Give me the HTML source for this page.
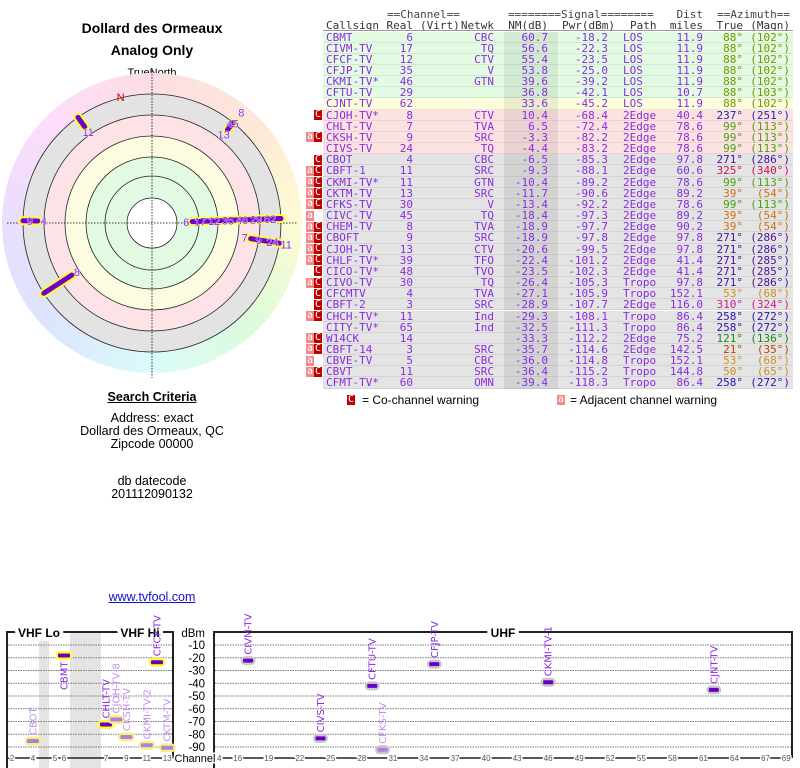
<!DOCTYPE html>
<html><head><meta charset="utf-8">
<style>
body{margin:0;width:800px;height:768px;background:#fff;position:relative;overflow:hidden;font-family:"Liberation Sans","DejaVu Sans",sans-serif;}
.t{position:absolute;white-space:pre;}
.c{position:absolute;text-align:center;white-space:pre;}
.m{font-family:"DejaVu Sans Mono","Liberation Mono",monospace;font-size:11px;line-height:11px;position:absolute;white-space:pre;}
.r{text-align:right;}
.rowbg{position:absolute;left:323px;width:470px;border-bottom:1px solid rgba(0,0,0,0.07);box-sizing:border-box;}
.wa{position:absolute;width:8px;height:10px;background:#f08a8a;color:#fff;font-size:10px;line-height:10px;text-align:center;font-family:"DejaVu Sans Mono",monospace;}
.wc{position:absolute;width:8px;height:10px;background:#c00000;color:#fff;font-size:10px;line-height:10px;text-align:center;font-family:"DejaVu Sans Mono",monospace;}
#rim{position:absolute;left:2px;top:73px;width:300px;height:300px;border-radius:50%;
background:conic-gradient(hsl(350,90%,93%) 0deg,hsl(25,90%,92%) 45deg,hsl(58,90%,91%) 90deg,hsl(115,80%,92%) 135deg,hsl(180,80%,92%) 180deg,hsl(225,90%,93%) 225deg,hsl(262,90%,93%) 270deg,hsl(305,90%,93%) 315deg,hsl(350,90%,93%) 360deg);}
</style></head><body>
<div class="c" style="left:0;width:304px;top:20px;font-size:14px;font-weight:bold;">Dollard des Ormeaux</div>
<div class="c" style="left:0;width:304px;top:42px;font-size:14px;font-weight:bold;">Analog Only</div>
<div class="c" style="left:0;width:304px;top:67px;font-size:11px;">TrueNorth</div>

<div id="rim"></div>
<svg id="radar" style="position:absolute;left:0;top:0" width="304" height="390"></svg>

<div class="c" style="left:0;width:304px;top:390px;font-size:12.5px;font-weight:bold;text-decoration:underline;">Search Criteria</div>
<div class="c" style="left:0;width:304px;top:412px;font-size:12.5px;line-height:13px;">Address: exact
Dollard des Ormeaux, QC
Zipcode 00000</div>
<div class="c" style="left:0;width:304px;top:475px;font-size:12.5px;line-height:13px;">db datecode
201112090132</div>
<div class="c" style="left:0;width:304px;top:590px;font-size:12.5px;color:#1010d0;text-decoration:underline;">www.tvfool.com</div>

<div id="table"></div>

<div class="wc" style="left:347px;top:395px;">C</div>
<div class="t" style="left:362px;top:393px;font-size:12px;">= Co-channel warning</div>
<div class="wa" style="left:557px;top:395px;">a</div>
<div class="t" style="left:570px;top:393px;font-size:12px;">= Adjacent channel warning</div>

<svg id="chart" style="position:absolute;left:0;top:0" width="800" height="768"></svg>

<script>
// ---------- table data ----------
const callsigns=["CBMT","CIVM-TV","CFCF-TV","CFJP-TV","CKMI-TV*","CFTU-TV","CJNT-TV","CJOH-TV*","CHLT-TV","CKSH-TV","CIVS-TV","CBOT","CBFT-1","CKMI-TV*","CKTM-TV","CFKS-TV","CIVC-TV","CHEM-TV","CBOFT","CJOH-TV","CHLF-TV*","CICO-TV*","CIVO-TV","CFCMTV","CBFT-2","CHCH-TV*","CITY-TV*","W14CK","CBFT-14","CBVE-TV","CBVT","CFMT-TV*"];
const realCh=[6,17,12,35,46,29,62,8,7,9,24,4,11,11,13,30,45,8,9,13,39,48,30,4,3,11,65,14,3,5,11,60];
const networks=["CBC","TQ","CTV","V","GTN","","","CTV","TVA","SRC","TQ","CBC","SRC","GTN","SRC","V","TQ","TVA","SRC","CTV","TFO","TVO","TQ","TVA","SRC","Ind","Ind","","SRC","CBC","SRC","OMN"];
const nmDb=[60.7,56.6,55.4,53.8,39.6,36.8,33.6,10.4,6.5,-3.3,-4.4,-6.5,-9.3,-10.4,-11.7,-13.4,-18.4,-18.9,-18.9,-20.6,-22.4,-23.5,-26.4,-27.1,-28.9,-29.3,-32.5,-33.3,-35.7,-36.0,-36.4,-39.4];
const pwrDbm=[-18.2,-22.3,-23.5,-25.0,-39.2,-42.1,-45.2,-68.4,-72.4,-82.2,-83.2,-85.3,-88.1,-89.2,-90.6,-92.2,-97.3,-97.7,-97.8,-99.5,-101.2,-102.3,-105.3,-105.9,-107.7,-108.1,-111.3,-112.2,-114.6,-114.8,-115.2,-118.3];
const paths=["LOS","LOS","LOS","LOS","LOS","LOS","LOS","2Edge","2Edge","2Edge","2Edge","2Edge","2Edge","2Edge","2Edge","2Edge","2Edge","2Edge","2Edge","2Edge","2Edge","2Edge","Tropo","Tropo","2Edge","Tropo","Tropo","2Edge","2Edge","Tropo","Tropo","Tropo"];
const distMiles=[11.9,11.9,11.9,11.9,11.9,10.7,11.9,40.4,78.6,78.6,78.6,97.8,60.6,78.6,89.2,78.6,89.2,90.2,97.8,97.8,41.4,41.4,97.8,152.1,116.0,86.4,86.4,75.2,142.5,152.1,144.8,86.4];
const azTrue=[88,88,88,88,88,88,88,237,99,99,99,271,325,99,39,99,39,39,271,271,271,271,271,53,310,258,258,121,21,53,50,258];
const azMagn=[102,102,102,102,102,103,102,251,113,113,113,286,340,113,54,113,54,54,286,286,285,285,286,68,324,272,272,136,35,68,65,272];
const warnings=["","","","","","","","C","","aC","","C","aC","aC","aC","aC","a","aC","aC","aC","aC","C","aC","C","C","aC","","aC","aC","a","aC",""];
const azColors={88:"#6a9a00",237:"#2020c0",99:"#4aa010",271:"#4a10a0",325:"#d0105a",39:"#d07010",53:"#d09020",310:"#d01890",258:"#3010b0",121:"#108a10",21:"#c04000",50:"#c89020"};

const tbl=document.getElementById('table');
function cell(txt,opts){
  const d=document.createElement('div');
  d.className='m'+(opts.right!==undefined?' r':'');
  d.textContent=txt;
  d.style.top=opts.top+'px';
  if(opts.left!==undefined)d.style.left=opts.left+'px';
  if(opts.right!==undefined)d.style.right=(800-opts.right)+'px';
  d.style.color=opts.color||'#8a2be2';
  tbl.appendChild(d);
  return d;
}
// header
let h;
h=cell("==Channel==",{left:387,top:9,color:'#444'});


h=cell("========Signal========",{left:508,top:9,color:'#444'});


h=cell("Dist",{right:703,top:9,color:'#444'});


h=cell("==Azimuth==",{right:790,top:9,color:'#444'});


const hdr2=[["Callsign",326,null],["Real",null,413],["(Virt)",420,null],["Netwk",null,494],["NM(dB)",null,548],["Pwr(dBm)",null,615],["Path",630,null],["miles",null,703],["True",null,743],["(Magn)",null,790]];
hdr2.forEach(a=>{
  const e=cell(a[0],a[1]!==null?{left:a[1],top:20,color:'#333'}:{right:a[2],top:20,color:'#333'});
  
  
});
const hl=document.createElement('div');
hl.style.cssText='position:absolute;left:323px;width:470px;top:30px;height:1px;background:#999';


tbl.appendChild(hl);
const RH=11.16;
callsigns.forEach((cs,i)=>{
  const top=31.5+i*RH;
  const bg=document.createElement('div');
  bg.className='rowbg';
  bg.style.top=top+'px';bg.style.height=RH+'px';
  bg.style.background=i<6?'#e2fbe2':(i==6?'#fdfddd':(i<11?'#fde2e2':'#e4e4e4'));
  
  
  tbl.appendChild(bg);
  const nmc=document.createElement('div');
  nmc.style.cssText='position:absolute;left:504px;width:54px;height:'+RH+'px;top:'+top+'px;background:rgba(0,0,0,0.07)';
  
  
  tbl.appendChild(nmc);
  const ty=top;
  const col=azColors[azTrue[i]];
  let e;
  e=cell(cs,{left:326,top:ty});
  
  
  e=cell(String(realCh[i]),{right:413,top:ty});
  
  
  e=cell(networks[i],{right:494,top:ty});
  
  
  e=cell(nmDb[i].toFixed(1),{right:548,top:ty});
  
  
  e=cell(pwrDbm[i].toFixed(1),{right:608,top:ty});
  
  
  e=cell(paths[i],{left:623,top:ty});
  
  
  e=cell(distMiles[i].toFixed(1),{right:703,top:ty});
  
  
  e=cell(azTrue[i]+"°",{right:743,top:ty,color:col});
  
  
  e=cell("("+azMagn[i]+"°)",{right:790,top:ty,color:col});
  
  
  const w=warnings[i];
  if(w.indexOf('a')>=0){
    const a=document.createElement('div');a.className='wa';a.textContent='a';
    a.style.left='306px';a.style.top=(top+0.5)+'px';
    
    
    tbl.appendChild(a);
  }
  if(w.indexOf('C')>=0){
    const c=document.createElement('div');c.className='wc';c.textContent='C';
    c.style.left='314px';c.style.top=(top+0.5)+'px';
    
    
    tbl.appendChild(c);
  }
});

// ---------- radar ----------
const NS='http://www.w3.org/2000/svg';
function S(tag,attrs,parent){const e=document.createElementNS(NS,tag);for(const k in attrs)e.setAttribute(k,attrs[k]);parent.appendChild(e);return e;}
const radar=document.getElementById('radar');
const CX=152,CY=223;
const bands=[[129,'#e3e3e3'],[108,'#fde3e6'],[87,'#fcfce0'],[66,'#e2fae2'],[25,'#ffffff']];
bands.forEach(b=>{const c=S('circle',{cx:CX,cy:CY,r:b[0],fill:b[1],stroke:'none'},radar);

});
[25,47,66,87,108,129].forEach(r=>{const c=S('circle',{cx:CX,cy:CY,r:r,fill:'none',stroke:'#222','stroke-width':0.8},radar);

});
let ln=S('line',{x1:7,y1:CY,x2:297,y2:CY,stroke:'#000','stroke-width':0.8,'stroke-dasharray':'1.5,1.5'},radar);


ln=S('line',{x1:CX,y1:68,x2:CX,y2:378,stroke:'#000','stroke-width':0.8,'stroke-dasharray':'1.5,1.5'},radar);


const nLab=S('text',{x:CX+130*Math.sin(-14*Math.PI/180),y:CY-130*Math.cos(-14*Math.PI/180)+4,'text-anchor':'middle','font-size':11,fill:'#d00000','font-family':'Liberation Sans, sans-serif'},radar);
nLab.textContent='N';


function rOf(nm){return 107-1.1*nm;}
function pt(az,r){const a=az*Math.PI/180;return [CX+r*Math.sin(a),CY-r*Math.cos(a)];}
const groups={};
callsigns.forEach((cs,i)=>{if(nmDb[i]>=-20){(groups[azTrue[i]]=groups[azTrue[i]]||[]).push(i);}});
Object.keys(groups).forEach(az=>{
  const idx=groups[az].sort((a,b)=>nmDb[b]-nmDb[a]);
  const p1=pt(+az,rOf(nmDb[idx[0]])),p2=pt(+az,129);
  const y=S('line',{x1:p1[0],y1:p1[1],x2:p2[0],y2:p2[1],stroke:'#ffff30','stroke-width':9,'stroke-linecap':'round'},radar);
  
  
  const b=S('line',{x1:p1[0],y1:p1[1],x2:p2[0],y2:p2[1],stroke:'#7000d0','stroke-width':5,'stroke-linecap':'round'},radar);
  
  
  let prev=-100;
  idx.forEach(i=>{
    let lr=Math.max(rOf(nmDb[i])-6,prev+14);prev=lr;
    if(lr>145)return;
    const p=pt(+az,lr);
    const t=S('text',{x:p[0],y:p[1]+4,'text-anchor':'middle','font-size':11,fill:'#8a2be2','font-family':'Liberation Sans, sans-serif',stroke:'#fff','stroke-width':0.6,'paint-order':'stroke'},radar);
    t.textContent=realCh[i];
    
    
  });
});

// ---------- spectrum chart ----------
const chartNames=["CBOT","CBMT","CHLT-TV","CJOH-TV-8","CKSH-TV","CKMI-TV-2","CFCF-TV","CKTM-TV","CIVM-TV","CIVS-TV","CFTU-TV","CFKS-TV","CFJP-TV","CKMI-TV-1","CJNT-TV"];
const chartChannels=[4,6,7,8,9,11,12,13,17,24,29,30,35,46,62];
const chartPower=[-85.3,-18.2,-72.4,-68.4,-82.2,-88.6,-23.5,-90.6,-22.3,-83.2,-42.1,-92.2,-25.0,-39.2,-45.2];
const chartWeak=[1,0,0,1,1,1,0,1,0,0,0,1,0,0,0];
const dbTicks=[-10,-20,-30,-40,-50,-60,-70,-80,-90];
const vhfTicks=[2,4,5,6,7,9,11,13];
const uhfTicks=[14,16,19,22,25,28,31,34,37,40,43,46,49,52,55,58,61,64,67,69];
function yOf(db){return 632.25-db*1.275;}
function xOf(ch){
  if(ch<=4)return 12+(ch-2)*10.5;
  if(ch<=6)return 55+(ch-5)*9;
  if(ch<=13)return 106+(ch-7)*10.2;
  return 217+(ch-14)*10.35;
}
const ch=document.getElementById('chart');
let r;
r=S('rect',{x:39,y:632,width:10,height:136,fill:'#e4e4e4'},ch);


r=S('rect',{x:70,y:632,width:31,height:136,fill:'#e4e4e4'},ch);


dbTicks.forEach(d=>{
  const y=yOf(d);
  let g=S('line',{x1:8,y1:y,x2:172,y2:y,stroke:'#777','stroke-width':1,'stroke-dasharray':'1.5,1'},ch);
  
  
  g=S('line',{x1:215,y1:y,x2:791,y2:y,stroke:'#777','stroke-width':1,'stroke-dasharray':'1.5,1'},ch);
  
  
  const t=S('text',{x:205,y:y+4,'text-anchor':'end','font-size':11.5,fill:'#000','font-family':'Liberation Sans, sans-serif'},ch);
  t.textContent=d;
  
  
});
let yl=S('text',{x:205,y:637,'text-anchor':'end','font-size':11.5,fill:'#000','font-family':'Liberation Sans, sans-serif'},ch);
yl.textContent='dBm';


// boxes
const boxStroke={stroke:'#222','stroke-width':2,fill:'none'};
let bx=S('polyline',Object.assign({points:'7,768 7,632 173,632 173,758'},boxStroke),ch);


bx=S('polyline',Object.assign({points:'214,768 214,632 792,632 792,758'},boxStroke),ch);


let ax=S('line',{x1:7,y1:758,x2:173,y2:758,stroke:'#222','stroke-width':1.5},ch);


ax=S('line',{x1:214,y1:758,x2:792,y2:758,stroke:'#222','stroke-width':1.5},ch);


[["VHF Lo",39],["VHF Hi",140],["UHF",503]].forEach(a=>{
  const t=S('text',{x:a[1],y:637,'text-anchor':'middle','font-size':12,'font-weight':'bold',fill:'#000',stroke:'#fff','stroke-width':8,'paint-order':'stroke','font-family':'Liberation Sans, sans-serif'},ch);
  t.textContent=a[0];
  
  
});
vhfTicks.concat(uhfTicks).forEach(c=>{
  const t=S('text',{x:xOf(c),y:761,'text-anchor':'middle','font-size':8,fill:'#555',stroke:'#fff','stroke-width':3,'paint-order':'stroke','font-family':'Liberation Sans, sans-serif'},ch);
  t.textContent=c;
  
  
});
let xt=S('text',{x:195,y:762,'text-anchor':'middle','font-size':11,fill:'#000',stroke:'#fff','stroke-width':3,'paint-order':'stroke','font-family':'Liberation Sans, sans-serif'},ch);
xt.textContent='Channel';


chartNames.forEach((n,i)=>{
  const c=chartChannels[i],x=xOf(c),y=yOf(chartPower[i]);
  const vhf=c<=13,weak=chartWeak[i];
  const hw=vhf?6:5;
  const halo=S('rect',{x:x-hw-2.5,y:y-4.5,width:2*hw+5,height:9,rx:4.5,fill:vhf?(weak?'#f8f080':'#ffff30'):'#c8c8c8'},ch);
  
  
  const bar=S('rect',{x:x-hw,y:y-2,width:2*hw,height:4,rx:1,fill:weak?'#b080e0':'#6a00c8'},ch);
  
  
  const below=chartPower[i]>-20;
  const ly=below?y+6:y-6;
  const t=S('text',{x:x+3.5,y:ly,transform:'rotate(-90 '+(x+3.5)+' '+ly+')','text-anchor':below?'end':'start','font-size':10,fill:weak?'#c090f0':'#8a2be2','font-family':'DejaVu Sans, sans-serif'},ch);
  t.textContent=n;
  
  
});
</script>
</body></html>
